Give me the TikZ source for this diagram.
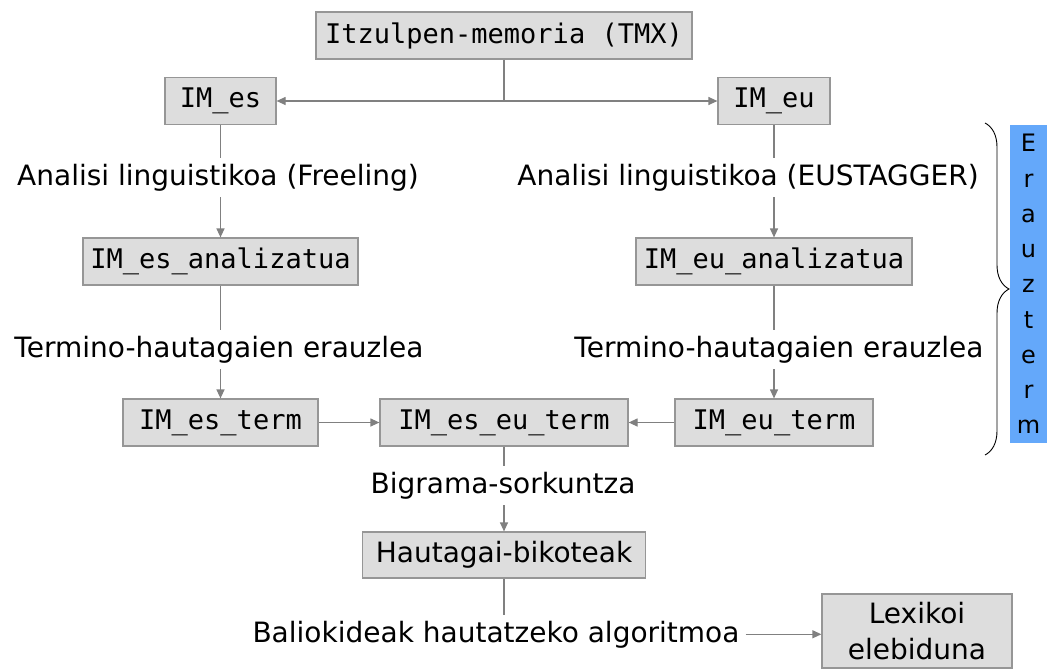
\documentclass[tikz,border=0pt]{standalone}
\usepackage{fontspec}
\setmainfont{DejaVu Sans}
\setmonofont{DejaVu Sans Mono}
\usepackage{tikz}
\usetikzlibrary{arrows.meta,decorations.pathreplacing}

\definecolor{kutxabete}{RGB}{221,221,221}
\definecolor{kutxaertz}{RGB}{150,150,150}
\definecolor{geziakol}{RGB}{128,128,128}
\definecolor{urdina}{RGB}{100,168,250}

\begin{document}
\begin{tikzpicture}[x=1pt,y=1pt,yscale=-1,xscale=1,
  kutxa/.style={draw=kutxaertz,fill=kutxabete,line width=1.2,inner sep=0pt,minimum height=47,font=\ttfamily\fontsize{27}{30}\selectfont},
  testua/.style={inner sep=6pt,anchor=base,font=\fontsize{28}{34}\selectfont},
  lerroa/.style={draw=geziakol,line width=1.2},
  gezia/.style={lerroa,-{Triangle[length=9pt,width=8pt]}}]
\useasboundingbox (0,0) rectangle (1047,670);

% Boxes
\node [kutxa,minimum width=376] (tmx) at (504,35.5) {Itzulpen-memoria (TMX)};
\node [kutxa,minimum width=111] (imes) at (220.5,101) {IM\_es};
\node [kutxa,minimum width=112] (imeu) at (774,101) {IM\_eu};
\node [kutxa,minimum width=275] (esanal) at (220.5,261.5) {IM\_es\_analizatua};
\node [kutxa,minimum width=276] (euanal) at (774,261.5) {IM\_eu\_analizatua};
\node [kutxa,minimum width=195] (esterm) at (220.5,422.5) {IM\_es\_term};
\node [kutxa,minimum width=248] (eseuterm) at (504,422.5) {IM\_es\_eu\_term};
\node [kutxa,minimum width=198] (euterm) at (774,422.5) {IM\_eu\_term};
\node [kutxa,minimum width=283,minimum height=46,font=\fontsize{28}{34}\selectfont] (hautagai) at (504,555) {Hautagai-bikoteak};
\node [kutxa,minimum width=190,minimum height=74,align=center,font=\fontsize{28}{36}\selectfont] (lexikoi) at (917,631) {Lexikoi\\elebiduna};

% Text Node
\node [testua] (anales) at (218,185) {Analisi linguistikoa (Freeling)};
\node [testua] (analeu) at (748,185) {Analisi linguistikoa (EUSTAGGER)};
\node [testua] (erauzes) at (219,357) {Termino-hautagaien erauzlea};
\node [testua] (erauzeu) at (779,357) {Termino-hautagaien erauzlea};
\node [testua] (bigrama) at (503,493) {Bigrama-sorkuntza};
\node [testua] (baliok) at (496,642) {Baliokideak hautatzeko algoritmoa};

% Erauzterm
\node [fill=urdina,inner sep=0pt,minimum width=37,minimum height=318,align=center,font=\fontsize{24}{35.25}\selectfont] (erauzterm) at (1028.5,284) {E\\r\\a\\u\\z\\t\\e\\r\\m};
\coordinate (giltzagoi) at (985,123);
\coordinate (giltzabehe) at (985,455);
\draw [line width=0.9,decorate,decoration={brace,amplitude=24pt}] (giltzagoi) -- (giltzabehe);

% Connectors
\coordinate (adarra) at (504,101);
\draw [lerroa] (tmx) -- (adarra);
\draw [gezia] (adarra) -- (imes);
\draw [gezia] (adarra) -- (imeu);

\draw [lerroa] (imes) -- (imes |- anales.north);
\draw [gezia] (esanal.north |- anales.south) -- (esanal);
\draw [lerroa] (imeu) -- (imeu |- analeu.north);
\draw [gezia] (euanal.north |- analeu.south) -- (euanal);

\draw [lerroa] (esanal) -- (esanal |- erauzes.north);
\draw [gezia] (esterm.north |- erauzes.south) -- (esterm);
\draw [lerroa] (euanal) -- (euanal |- erauzeu.north);
\draw [gezia] (euterm.north |- erauzeu.south) -- (euterm);

\draw [gezia] (esterm) -- (eseuterm);
\draw [gezia] (euterm) -- (eseuterm);

\draw [lerroa] (eseuterm) -- (eseuterm |- bigrama.north);
\draw [gezia] (hautagai.north |- bigrama.south) -- (hautagai);
\draw [lerroa] (hautagai) -- (hautagai |- baliok.north);
\draw [gezia] (baliok) -- (baliok -| lexikoi.west);

\end{tikzpicture}
\end{document}
